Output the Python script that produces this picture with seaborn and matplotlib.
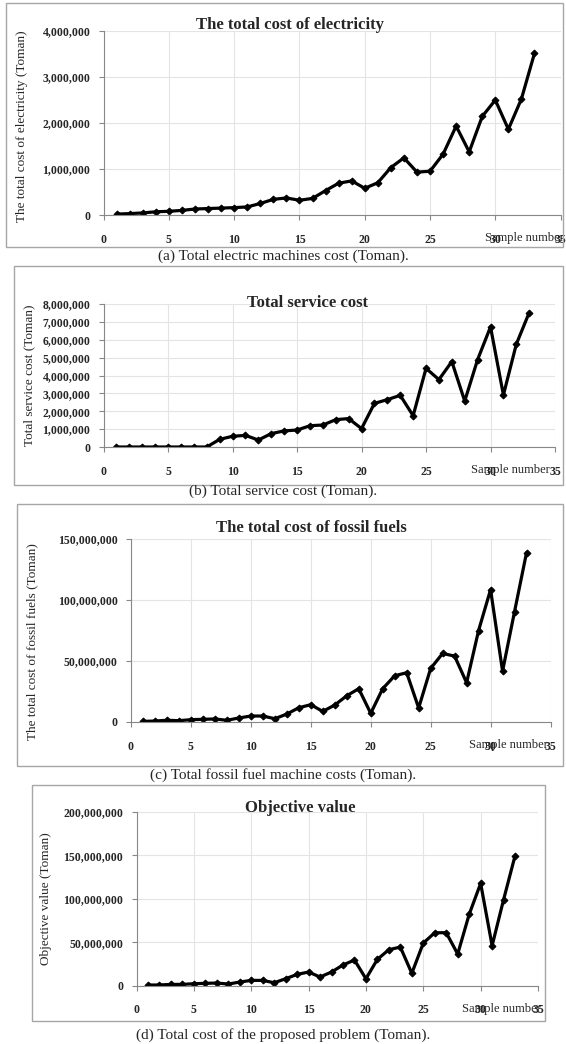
import matplotlib
matplotlib.use('Agg')
import matplotlib.pyplot as plt
import matplotlib.ticker as mticker
from matplotlib.patches import Rectangle
import seaborn as sns
import pandas as pd

# sample numbers 1..33
samples = list(range(1, 34))

electricity_cost = [20000, 30000, 45000, 70000, 80000, 100000, 130000, 140000, 150000, 160000,
                    175000, 250000, 340000, 370000, 320000, 360000, 530000, 690000, 740000, 580000,
                    700000, 1030000, 1240000, 930000, 950000, 1320000, 1930000, 1370000, 2140000,
                    2495000, 1860000, 2520000, 3510000]

service_cost = [0, 0, 0, 0, 0, 0, 0, 0, 430000, 600000,
                650000, 390000, 750000, 900000, 950000, 1190000, 1230000, 1530000, 1590000, 1030000,
                2440000, 2650000, 2890000, 1750000, 4400000, 3770000, 4780000, 2570000, 4890000,
                6720000, 2910000, 5750000, 7520000]

fossil_cost = [0.5e6, 0.8e6, 1.4e6, 1.1e6, 1.9e6, 2.2e6, 2.5e6, 1.4e6, 3.3e6, 4.9e6,
               4.9e6, 2.7e6, 6.5e6, 11.7e6, 14.2e6, 8.7e6, 13.9e6, 21.5e6, 27.3e6, 7.1e6,
               27.3e6, 37.9e6, 40.4e6, 11.5e6, 43.9e6, 56.2e6, 54.0e6, 32.2e6, 75.0e6,
               108.5e6, 41.7e6, 90.5e6, 138.8e6]

objective_value = [0.8e6, 0.8e6, 1.5e6, 1.5e6, 2.3e6, 2.7e6, 3.1e6, 1.9e6, 4.2e6, 6.1e6,
                   6.1e6, 3.4e6, 8.0e6, 13.0e6, 15.7e6, 10.0e6, 15.7e6, 23.8e6, 29.5e6, 8.0e6,
                   30.3e6, 41.4e6, 44.4e6, 14.2e6, 49.0e6, 60.9e6, 60.9e6, 36.4e6, 82.0e6,
                   117.6e6, 46.0e6, 98.9e6, 149.4e6]

titles = ['The total cost of electricity', 'Total service cost',
          'The total cost of fossil fuels', 'Objective value']
ylabels = ['The total cost of electricity (Toman)', 'Total service cost (Toman)',
           'The total cost of fossil fuels (Toman)', 'Objective value (Toman)']
captions = ['(a) Total electric machines cost (Toman).', '(b) Total service cost (Toman).',
            '(c) Total fossil fuel machine costs (Toman).', '(d) Total cost of the proposed problem (Toman).']
y_max = [4000000, 8000000, 150000000, 200000000]
y_step = [1000000, 1000000, 50000000, 50000000]

sns.set_style('white')
plt.rcParams['font.family'] = ['Liberation Serif', 'DejaVu Serif']

W, H = 566, 1044
fig = plt.figure(figsize=(W / 100, H / 100), dpi=100)

# layout in pixels: axes (left, right, top, bottom), frame box, title pos, ylabel x, xlabel x, caption y
axes_px = [(103.6, 560.6, 30.7, 215), (103.6, 555, 304, 447),
           (131, 550.5, 539, 722), (136.5, 538, 811.7, 985.7)]
box_px = [(6, 563, 3, 247), (14, 563, 266, 485), (17, 563, 504, 766), (32, 545, 785, 1021)]
title_pos = [(0.408, 1.031), (0.451, 1.01), (0.431, 1.058), (0.407, 1.02)]
ylab_pos = [(-0.165, 0.48), (-0.152, 0.5), (-0.22, 0.44), (-0.21, 0.5)]
xlab_x = [29.2, 28.5, 28.2, 28.4]
caption_y = [256, 491, 775, 1035]

series = [electricity_cost, service_cost, fossil_cost, objective_value]
edge = '#888888'

for i in range(4):
    l, r, t, b = axes_px[i]
    ax = fig.add_axes([l / W, 1 - b / H, (r - l) / W, (b - t) / H])
    df = pd.DataFrame({'sample': samples, 'cost': series[i]})
    sns.lineplot(data=df, x='sample', y='cost', ax=ax, color='black', linewidth=2.3,
                 marker='D', markersize=3.5, markeredgecolor='black')
    ax.set_xlim(0, 35)
    ax.set_ylim(0, y_max[i])
    ax.xaxis.set_major_locator(mticker.MultipleLocator(5))
    ax.yaxis.set_major_locator(mticker.MultipleLocator(y_step[i]))
    ax.yaxis.set_major_formatter(mticker.StrMethodFormatter('{x:,.0f}'))
    ax.grid(True, color='#e4e4e4', linewidth=0.8)
    ax.set_axisbelow(True)
    for s in ['top', 'right']:
        ax.spines[s].set_visible(False)
    for s in ['left', 'bottom']:
        ax.spines[s].set_color(edge)
        ax.spines[s].set_linewidth(0.8)
    ax.tick_params(axis='both', direction='out', length=3.5, width=0.8, color=edge,
                   labelsize=8.5, left=True, bottom=True)
    ax.tick_params(axis='x', pad=10)
    ax.tick_params(axis='y', pad=6)
    for lab in ax.get_xticklabels() + ax.get_yticklabels():
        lab.set_fontweight('bold')
    ax.set_ylabel(ylabels[i], fontsize=9.5)
    ax.yaxis.set_label_coords(*ylab_pos[i])
    ax.set_xlabel('Sample number', fontsize=9, ha='left', va='center')
    ax.xaxis.set_label_coords(xlab_x[i] / 35, -23 / (b - t))
    ax.text(title_pos[i][0], title_pos[i][1], titles[i], transform=ax.transAxes,
            ha='center', va='center', fontsize=12, fontweight='bold')

    bl, br, bt, bb = box_px[i]
    fig.patches.append(Rectangle((bl / W, 1 - bb / H), (br - bl) / W, (bb - bt) / H,
                                 transform=fig.transFigure, fill=False,
                                 edgecolor='#a6a6a6', linewidth=1.0))
    fig.text(0.5, 1 - caption_y[i] / H, captions[i], ha='center', va='center', fontsize=11)

fig.savefig('out.png', dpi=100, facecolor='white')
